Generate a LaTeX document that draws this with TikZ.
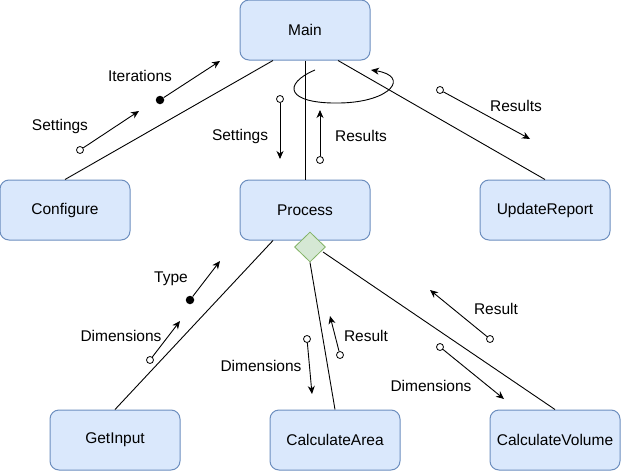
\documentclass[tikz,border=0pt]{standalone}
\usepackage{fontspec}
\setmainfont{Liberation Sans}
\usetikzlibrary{arrows.meta,shapes.geometric,calc}
\definecolor{boxfill}{HTML}{DAE8FC}
\definecolor{boxline}{HTML}{6C8EBF}
\definecolor{dfill}{HTML}{D5E8D4}
\definecolor{dline}{HTML}{82B366}
\tikzset{
  box/.style={draw=boxline,fill=boxfill,rounded corners=9pt,minimum width=130pt,minimum height=60pt,inner sep=0pt,line width=1pt},
  dec/.style={diamond,draw=dline,fill=dfill,minimum width=31pt,minimum height=30pt,inner sep=0pt,line width=0.8pt},
  conn/.style={draw=black,line width=0.9pt},
  msg/.style={draw=black,line width=0.9pt,-{Stealth[length=8pt,width=7pt,inset=2.5pt]}},
  odot/.style={circle,draw=black,fill=white,line width=0.8pt,inner sep=0pt,minimum size=7pt},
  fdot/.style={circle,fill=black,inner sep=0pt,minimum size=8.5pt},
  lbl/.style={inner sep=0pt,anchor=center}
}
\begin{document}
\begin{tikzpicture}[x=1pt,y=-1pt,font=\fontsize{15.5}{18}\selectfont]
\useasboundingbox (0,0) rectangle (621,471);
% nodes
\node[box] (main) at (305,30) {Main};
\node[box] (config) at (65,210) {Configure};
\node[box] (proc) at (305,210) {Process};
\node[box] (upd) at (545,210) {UpdateReport};
\node[box] (getin) at (115,440) {GetInput};
\node[box] (area) at (335,440) {CalculateArea};
\node[box] (vol) at (555,440) {CalculateVolume};
\node[dec] (dia) at (310,247) {};
% connectors
\draw[conn] ($(main.south)+(-32,0)$) -- (config.north);
\draw[conn] (main.south) -- (proc.north);
\draw[conn] ($(main.south)+(33,0)$) -- (upd.north);
\draw[conn] ($(proc.south)+(-32,0)$) -- (getin.north);
\draw[conn] (dia.south) -- (area.north);
\draw[conn] ($(dia.center)+(13,5)$) -- (vol.north);
% self loop on Main
\coordinate (l1) at (315,70);
\coordinate (l2) at (371,70);
\draw[msg] (l1) .. controls (282,84) and (286,104) .. (340,103)
  .. controls (392,102) and (410,76) .. (l2);
% messages
\node[odot] (s1) at (80,150) {};
\coordinate (t1) at (139,111);
\draw[msg] (s1) -- (t1);
\node[lbl] at (60,126) {Settings};

\node[fdot] (s2) at (160,100) {};
\coordinate (t2) at (220,61);
\draw[msg] (s2) -- (t2);
\node[lbl] at (140,76) {Iterations};

\node[odot] (s3) at (280,99) {};
\coordinate (t3) at (280,159);
\draw[msg] (s3) -- (t3);
\node[lbl] at (240,136) {Settings};

\node[odot] (s4) at (320,160) {};
\coordinate (t4) at (320,110);
\draw[msg] (s4) -- (t4);
\node[lbl] at (361,136) {Results};

\node[odot] (s5) at (440,90) {};
\coordinate (t5) at (530,139);
\draw[msg] (s5) -- (t5);
\node[lbl] at (516,106) {Results};

\node[fdot] (s6) at (190,300) {};
\coordinate (t6) at (220,261);
\draw[msg] (s6) -- (t6);
\node[lbl] at (171,279) {Type};

\node[odot] (s7) at (150,360) {};
\coordinate (t7) at (180,321);
\draw[msg] (s7) -- (t7);
\node[lbl] at (121,336) {Dimensions};

\node[odot] (s8) at (307,339) {};
\coordinate (t8) at (312,394);
\draw[msg] (s8) -- (t8);
\node[lbl] at (261,366) {Dimensions};

\node[odot] (s9) at (340,355) {};
\coordinate (t9) at (330,316);
\draw[msg] (s9) -- (t9);
\node[lbl] at (366,336) {Result};

\node[odot] (s10) at (490,339) {};
\coordinate (t10) at (430,290);
\draw[msg] (s10) -- (t10);
\node[lbl] at (496,309) {Result};

\node[odot] (s11) at (440,347) {};
\coordinate (t11) at (504,399);
\draw[msg] (s11) -- (t11);
\node[lbl] at (431,386) {Dimensions};
\end{tikzpicture}
\end{document}
